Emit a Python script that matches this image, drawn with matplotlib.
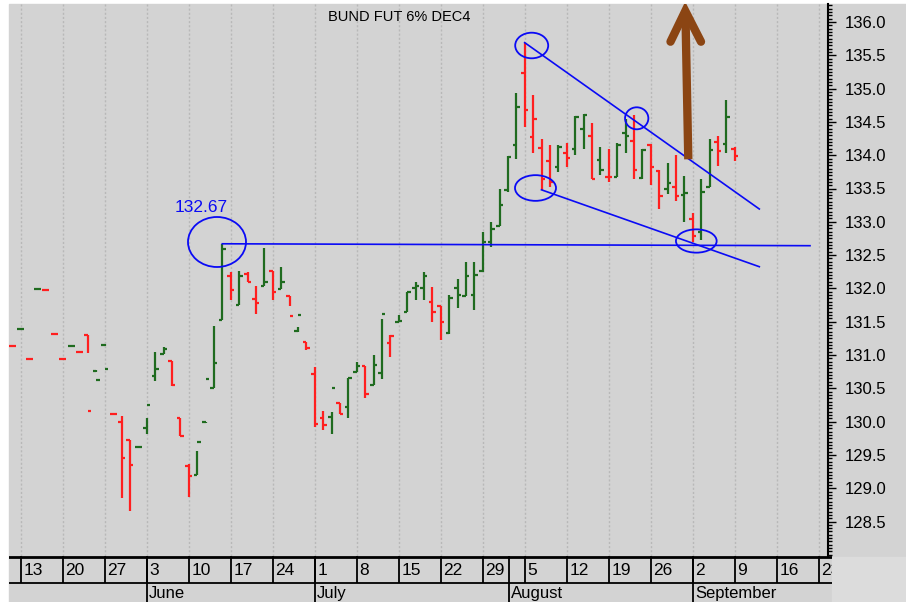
import numpy as np
import matplotlib.pyplot as plt
from matplotlib.patches import Ellipse, Rectangle
from matplotlib.ticker import MultipleLocator, FormatStrFormatter

plt.rcParams['font.family'] = ['Liberation Sans', 'DejaVu Sans']

# trading-day index, 0 = Thursday 13 May 2004
day = list(range(-1, 86))
opens = [131.13, 131.39, 130.94, 131.99, 131.97, 131.32, 130.94, 131.13, 131.04, 131.30,
         130.76, 131.15, 130.11, 130.00, 129.72, 129.62, 129.91, 130.69, 131.01, 130.91,
         130.05, 129.34, 129.20, 129.99, 130.50, 131.53, 132.18, 131.75, 132.22, 131.84,
         132.04, 132.26, 131.99, 131.88, 131.36, 131.20, 130.71, 130.06, 130.07, 130.28,
         130.22, 130.75, 130.84, 130.55, 130.73, 131.18, 131.50, 131.65, 132.01, 132.01,
         131.79, 131.74, 131.33, 132.01, 131.88, 131.90, 132.26, 132.69, 132.94, 133.48,
         134.15, 135.23, 134.27, 134.11, 133.92, 133.83, 134.04, 134.10, 134.40, 134.29,
         133.93, 133.68, 133.68, 134.34, 134.22, 133.66, 134.15, 133.77, 133.49, 133.53,
         133.40, 133.04, 132.85, 133.52, 134.20, 134.17, 134.10]
highs = [131.14, 131.40, 130.95, 132.00, 131.98, 131.33, 130.95, 131.14, 131.05, 131.30,
         130.77, 131.16, 130.12, 130.09, 129.72, 129.63, 130.05, 131.05, 131.12, 130.91,
         130.05, 129.36, 129.56, 130.00, 131.43, 132.67, 132.25, 132.26, 132.24, 132.04,
         132.60, 132.26, 132.32, 131.88, 131.42, 131.20, 130.82, 130.16, 130.14, 130.28,
         130.65, 130.90, 130.84, 131.00, 131.54, 131.30, 131.60, 131.95, 132.09, 132.25,
         132.02, 131.74, 131.90, 132.14, 132.39, 132.39, 132.85, 133.00, 133.50, 133.99,
         134.94, 135.69, 134.90, 134.25, 134.15, 134.15, 134.18, 134.59, 134.62, 134.48,
         134.13, 134.10, 134.18, 134.55, 134.60, 134.09, 134.17, 133.78, 133.89, 134.00,
         133.69, 133.13, 133.64, 134.25, 134.29, 134.83, 134.12]
lows = [131.12, 131.38, 130.93, 131.98, 131.96, 131.31, 130.93, 131.12, 131.03, 131.03,
        130.75, 131.14, 130.10, 128.85, 128.66, 129.61, 129.82, 130.61, 131.01, 130.53,
        129.78, 128.87, 129.20, 129.98, 130.50, 131.53, 131.83, 131.75, 132.09, 131.61,
        132.04, 131.83, 131.99, 131.73, 131.34, 131.08, 129.92, 129.87, 129.82, 130.12,
        130.05, 130.75, 130.36, 130.55, 130.64, 130.97, 131.50, 131.65, 131.83, 131.83,
        131.50, 131.23, 131.31, 131.70, 131.88, 131.68, 132.24, 132.62, 132.94, 133.45,
        133.95, 134.43, 134.03, 133.48, 133.53, 133.75, 133.83, 134.00, 134.10, 133.64,
        133.70, 133.60, 133.68, 134.03, 133.65, 133.64, 133.56, 133.19, 133.42, 133.31,
        133.00, 132.69, 132.73, 133.52, 133.84, 134.03, 133.91]
closes = [131.13, 131.39, 130.94, 131.99, 131.97, 131.32, 130.94, 131.13, 131.04, 130.16,
          130.62, 130.79, 130.11, 129.46, 129.35, 129.62, 130.25, 130.79, 131.09, 130.55,
          129.79, 129.18, 129.69, 130.64, 130.88, 132.59, 131.98, 132.18, 132.10, 131.78,
          132.09, 131.95, 132.09, 131.58, 131.60, 131.10, 129.97, 129.95, 130.51, 130.12,
          130.65, 130.83, 130.41, 130.85, 131.62, 131.29, 131.51, 131.95, 132.04, 132.18,
          131.65, 131.49, 131.85, 131.90, 132.18, 132.20, 132.69, 132.89, 133.25, 133.97,
          134.73, 134.68, 134.55, 133.65, 133.60, 134.12, 133.96, 134.57, 134.60, 133.64,
          133.78, 133.68, 134.15, 134.29, 133.78, 134.08, 133.83, 133.39, 133.59, 133.38,
          133.43, 132.78, 133.44, 134.08, 134.06, 134.57, 133.99]
prev_close = 131.20

week_labels = ['13', '20', '27', '3', '10', '17', '24', '1', '8', '15',
               '22', '29', '5', '12', '19', '26', '2', '9', '16', '23']
week_days = list(range(0, 100, 5))
months = ['June', 'July', 'August', 'September']
month_days = [15, 35, 58.1, 80]

GREEN = '#1F6B1F'
RED = '#FF1F1F'
BLUE = '#0A0AF5'
GRAY = '#D3D3D3'

W, H = 906, 602
fig = plt.figure(figsize=(W / 100, H / 100), dpi=100)
fig.patch.set_facecolor('white')
fig.patches.append(Rectangle((9 / W, 0), 1 - 9 / W, 1 - 3.5 / H,
                             transform=fig.transFigure, color=GRAY, zorder=-10))
fig.patches.append(Rectangle((832 / W, 0), 1 - 832 / W, 45 / H,
                             transform=fig.transFigure, color='#DCDCDC', zorder=-9))

# pixel <-> data helpers (day spacing 8.4 px, 66.6 px per point)
def dx(p):
    return (p - 20.7) / 8.4

def py(p):
    return 136.0 - (p - 22.0) / 66.6

ax = fig.add_axes([9 / W, 1 - 556 / H, (828 - 9) / W, (556 - 3.5) / H])
ax.set_facecolor('none')
ax.set_xlim(dx(9), dx(828))
ax.set_ylim(py(556), py(3.5))

for d in week_days:
    ax.axvline(d, color='#B8B8B8', lw=1, ls=(0, (1.5, 1.5)), zorder=1)

# OHLC bars, coloured by close against previous close
prev = [prev_close] + closes[:-1]
colors = [GREEN if c > p else RED for c, p in zip(closes, prev)]
d = np.array(day)
ax.vlines(d, lows, highs, colors=colors, lw=1.6, zorder=3)
ax.hlines(opens, d - 0.42, d, colors=colors, lw=1.6, zorder=3)
ax.hlines(closes, d, d + 0.42, colors=colors, lw=1.6, zorder=3)

# annotations
i24 = day.index(24)
ax.plot([24, dx(810)], [highs[i24], py(245.7)], color=BLUE, lw=1.2, zorder=4)
i60 = day.index(60)
ax.plot([60, dx(759.3)], [highs[i60], py(209)], color=BLUE, lw=1.2, zorder=4)
i62 = day.index(62)
ax.plot([62, dx(759.3)], [lows[i62], py(266.7)], color=BLUE, lw=1.2, zorder=4)

for cx, cy, w, h in [(217, 242, 58, 50), (531.7, 45.5, 33, 25.6), (636.7, 118.3, 23.3, 22),
                     (535.5, 188, 41, 25.7), (696.3, 241, 40.7, 23.3)]:
    ax.add_patch(Ellipse((dx(cx), py(cy)), w / 8.4, h / 66.6, fill=False,
                         edgecolor=BLUE, lw=1.3, zorder=4))

ax.text(dx(201), py(208), '132.67', color=BLUE, fontsize=12.5, ha='center', va='center')

brown = '#8B4513'
ax.plot([dx(688.3), dx(685.5)], [py(159.3), py(16)], color=brown, lw=6,
        solid_capstyle='butt', zorder=5)
ax.plot([dx(670.5), dx(685.3), dx(701)], [py(41.7), py(11), py(41.7)], color=brown,
        lw=6, solid_capstyle='round', solid_joinstyle='miter', zorder=5)

fig.text(399 / W, 1 - 17 / H, 'BUND FUT 6% DEC4', fontsize=10.5, ha='center', va='center')

# right price axis
for s in ['left', 'top', 'bottom']:
    ax.spines[s].set_visible(False)
ax.spines['right'].set_linewidth(1.5)
ax.yaxis.tick_right()
ax.yaxis.set_major_locator(MultipleLocator(0.5))
ax.yaxis.set_minor_locator(MultipleLocator(0.05))
ax.yaxis.set_major_formatter(FormatStrFormatter('%.1f'))
ax.set_yticks([t for t in np.arange(128.5, 136.01, 0.5)])
ax.tick_params(axis='y', which='major', length=6, width=1, labelsize=12, pad=6)
ax.tick_params(axis='y', which='minor', length=3, width=1)
ax.set_xticks([])

# date panel under the chart
dax = fig.add_axes([9 / W, 0, (832 - 9) / W, 46 / H])
dax.set_facecolor('none')
dax.set_xlim(dx(9), dx(832))
dax.set_ylim(0, 1)
dax.axis('off')
row = (602 - 582.7) / 46
dax.axhline(0.98, color='black', lw=2)
dax.axhline(row, color='black', lw=1.3)
for dd, lab in zip(week_days, week_labels):
    dax.vlines(dd, row, 1, color='black', lw=1.3)
    dax.text(dd + 0.3, 0.69, lab, fontsize=12.5, ha='left', va='center', clip_on=True)
for dd, lab in zip(month_days, months):
    dax.vlines(dd, 0, 1, color='black', lw=1.3)
    dax.text(dd + 0.3, (602 - 586) / 46, lab, fontsize=12, ha='left', va='top')

fig.savefig('out.png', dpi=100)
